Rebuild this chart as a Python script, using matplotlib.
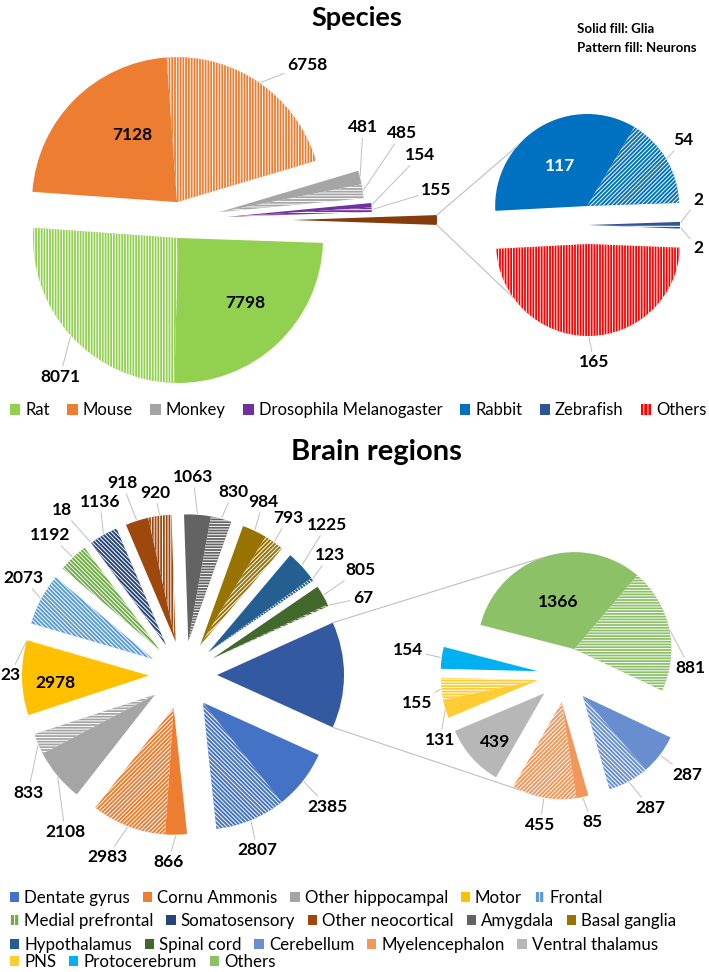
import matplotlib
matplotlib.use("Agg")
import matplotlib.pyplot as plt
from matplotlib.patches import Patch
import numpy as np

plt.rcParams['font.family'] = ['Lato', 'DejaVu Sans']
plt.rcParams['hatch.linewidth'] = 0.7

W, H = 709, 972

# ---------------- data ----------------
species = ["Rat", "Mouse", "Monkey", "Drosophila Melanogaster", "Rabbit", "Zebrafish", "Others"]
species_glia = [7798, 7128, 481, 154, 117, 2, 0]
species_neurons = [8071, 6758, 485, 155, 54, 2, 165]
species_colors = ["#92D050", "#ED7D31", "#A5A5A5", "#7030A0", "#0070C0", "#2F5597", "#FF0000"]
species_main_n = 4          # the rest is split out into the small pie

regions = ["Dentate gyrus", "Cornu Ammonis", "Other hippocampal", "Motor", "Frontal",
           "Medial prefrontal", "Somatosensory", "Other neocortical", "Amygdala", "Basal ganglia",
           "Hypothalamus", "Spinal cord", "Cerebellum", "Myelencephalon", "Ventral thalamus",
           "PNS", "Protocerebrum", "Others"]
region_glia = [2385, 866, 2108, 2978, 0, 0, 18, 918, 1063, 984, 1225, 805,
               287, 85, 439, 131, 154, 1366]
region_neurons = [2807, 2983, 833, 23, 2073, 1192, 1136, 920, 830, 793, 123, 67,
                  287, 455, 0, 155, 0, 881]
region_colors = ["#4472C4", "#ED7D31", "#A5A5A5", "#FFC000", "#5B9BD5", "#70AD47",
                 "#264478", "#9E480E", "#636363", "#997300", "#255E91", "#43682B",
                 "#698ED0", "#F1975A", "#B7B7B7", "#FFCD33", "#00B0F0", "#8CC168"]
region_main_n = 12
region_sec_order = [17, 12, 13, 14, 15, 16]   # clockwise in the small pie

# ---------------- style ----------------
V, D, B, HZ = "||||||", "////////", "\\" * 8, "------"
species_hatch = [V, V, HZ, HZ, D, HZ, V]
species_other_color = "#843C0C"
species_explode = [18, 18, 41, 48, 19, 0, 19]
species_other_explode = 113

region_hatch = [B, D, HZ, HZ, B, B, B, V, HZ, D, B, HZ, B, D, "", HZ, "", HZ]
region_other_color = "#3359A1"

LEAD = "#BFBFBF"
LABEL_FS = 12.5

fig = plt.figure(figsize=(W / 100, H / 100), dpi=100)
ax = fig.add_axes([0, 0, 1, 1])


def Y(y):
    return H - y


def build(idx, glia, neurons, colors, hatches):
    vals, cols, hats, grp = [], [], [], []
    for i in idx:
        for v, h in ((glia[i], ""), (neurons[i], hatches[i])):
            if v > 0:
                vals.append(v); cols.append(colors[i]); hats.append(h); grp.append(i)
    return vals, cols, hats, grp


def draw_pie(vals, cols, hats, grp, center, radius, start, explode):
    wedges, _ = ax.pie(vals, colors=cols, hatch=hats, startangle=start, counterclock=False,
                       radius=radius, center=center, frame=True,
                       wedgeprops=dict(linewidth=0, edgecolor="white"))
    # explode whole groups so glia/neuron halves stay together
    for g in set(grp):
        ws = [w for w, gg in zip(wedges, grp) if gg == g]
        mid = np.deg2rad((min(w.theta1 for w in ws) + max(w.theta2 for w in ws)) / 2)
        d = explode[g]
        for w in ws:
            w.set_center((center[0] + d * np.cos(mid), center[1] + d * np.sin(mid)))
    return wedges


def put_labels(wedges, vals, spots):
    for w, v, spot in zip(wedges, vals, spots):
        if spot is None:
            continue
        x, y, mode = spot
        if mode == "lead":
            a = np.deg2rad((w.theta1 + w.theta2) / 2)
            tip = (w.center[0] + w.r * np.cos(a), w.center[1] + w.r * np.sin(a))
            ax.annotate(str(v), xy=tip, xytext=(x, Y(y)), ha="center", va="center",
                        fontsize=LABEL_FS, fontweight="bold",
                        arrowprops=dict(arrowstyle="-", color=LEAD, lw=0.7, shrinkA=0, shrinkB=1))
        else:
            ax.text(x, Y(y), str(v), ha="center", va="center", fontsize=LABEL_FS,
                    fontweight="bold", color="white" if mode == "in_w" else "black")


def arc_pt(w, deg):
    a = np.deg2rad(deg)
    return w.center[0] + w.r * np.cos(a), w.center[1] + w.r * np.sin(a)


def legend_row(names, colors, hatched, y, fs, x=10, colsp=0.75, hsize=0.55):
    handles = [Patch(facecolor=c, edgecolor="white" if h else c, hatch="||||" if h else None, lw=0)
               for c, h in zip(colors, hatched)]
    fig.legend(handles, names, loc="center left", bbox_to_anchor=(x / W, 1 - y / H),
               ncol=len(names), frameon=False, fontsize=fs, handlelength=hsize, handleheight=hsize,
               handletextpad=0.3, columnspacing=colsp, borderpad=0, borderaxespad=0)


# ================= Species =================
ax.text(357, Y(18), "Species", ha="center", va="center", fontsize=19.5, fontweight="bold")
ax.text(577, Y(29), "Solid fill: Glia", ha="left", va="center", fontsize=9.5, fontweight="bold")
ax.text(577, Y(48), "Pattern fill: Neurons", ha="left", va="center", fontsize=9.5, fontweight="bold")

v1, c1, h1, g1 = build(range(species_main_n), species_glia, species_neurons, species_colors, species_hatch)
rest = sum(species_glia[species_main_n:]) + sum(species_neurons[species_main_n:])
v1.append(rest); c1.append(species_other_color); h1.append(""); g1.append(-1)
exp1 = dict(enumerate(species_explode)); exp1[-1] = species_other_explode
start1 = -0.5 * 360 * rest / sum(v1)
w1 = draw_pie(v1, c1, h1, g1, (179, Y(220)), 145, start1, exp1)
put_labels(w1, v1, [(245, 303, "in"), (60, 377, "lead"), (132, 135, "in"), (307, 65, "lead"),
                    (363, 127, "lead"), (402, 133, "lead"), (420, 155, "lead"), (436, 190, "lead"),
                    None])

v2, c2, h2, g2 = build(range(species_main_n, len(species)), species_glia, species_neurons,
                       species_colors, species_hatch)
w2 = draw_pie(v2, c2, h2, g2, (588, Y(225)), 92, 183, dict(enumerate(species_explode)))
put_labels(w2, v2, [(560, 166, "in_w"), (683, 140, "lead"), (698, 200, "lead"),
                    (698, 248, "lead"), (594, 362, "lead")])

other = w1[-1]
for a_main, w_sec, a_sec in ((other.theta2, w2[0], 139), (other.theta1, w2[-1], -144)):
    p, q = arc_pt(other, a_main), arc_pt(w_sec, a_sec)
    ax.plot([p[0], q[0]], [p[1], q[1]], color=LEAD, lw=0.8)

legend_row(species, species_colors, [g == 0 for g in species_glia], 410, 12,
           colsp=1.05, hsize=0.62)

# ================= Brain regions =================
ax.text(376, Y(452), "Brain regions", ha="center", va="center", fontsize=21, fontweight="bold")

v3, c3, h3, g3 = build(range(region_main_n), region_glia, region_neurons, region_colors, region_hatch)
rest = sum(region_glia[region_main_n:]) + sum(region_neurons[region_main_n:])
v3.append(rest); c3.append(region_other_color); h3.append(""); g3.append(-1)
exp3 = {g: 34 for g in g3}
start3 = -0.5 * 360 * rest / sum(v3)
w3 = draw_pie(v3, c3, h3, g3, (183, Y(675)), 127, start3, exp3)
put_labels(w3, v3, [(328, 807, "lead"), (257, 850, "lead"), (168, 862, "lead"), (107, 857, "lead"),
                    (65, 832, "lead"), (28, 793, "lead"), (55, 683, "in"), (10, 675, "lead"),
                    (23, 578, "lead"), (50, 535, "lead"), (62, 510, "lead"), (100, 502, "lead"),
                    (122, 483, "lead"), (155, 493, "lead"), (193, 477, "lead"), (233, 492, "lead"),
                    (263, 502, "lead"), (288, 518, "lead"), (327, 525, "lead"), (330, 555, "lead"),
                    (360, 570, "lead"), (363, 598, "lead"), None])

v4, c4, h4, g4 = build(region_sec_order, region_glia, region_neurons, region_colors, region_hatch)
w4 = draw_pie(v4, c4, h4, g4, (565, Y(675)), 97, 165.5, {g: 27.5 for g in g4})
put_labels(w4, v4, [(558, 602, "in"), (690, 668, "lead"), (687, 775, "lead"), (650, 808, "lead"),
                    (592, 822, "lead"), (540, 825, "lead"), (495, 742, "in"), (440, 740, "lead"),
                    (417, 703, "lead"), (408, 650, "lead")])

other = w3[-1]
myel = [w for w, g in zip(w4, g4) if g == 13][-1]
for a_main, w_sec, a_sec in ((other.theta2, w4[0], 110), (other.theta1, myel, -115)):
    p, q = arc_pt(other, a_main), arc_pt(w_sec, a_sec)
    ax.plot([p[0], q[0]], [p[1], q[1]], color=LEAD, lw=0.8)

hatched = [g == 0 for g in region_glia]
rows = [(0, 5, 898), (5, 10, 921), (10, 15, 945), (15, 18, 962)]
for a, b, y in rows:
    legend_row(regions[a:b], region_colors[a:b], hatched[a:b], y, 12.2)

ax.set_xlim(0, W)
ax.set_ylim(0, H)
ax.set_aspect("equal")
ax.axis("off")
fig.savefig("out.png", dpi=100, facecolor="white")
